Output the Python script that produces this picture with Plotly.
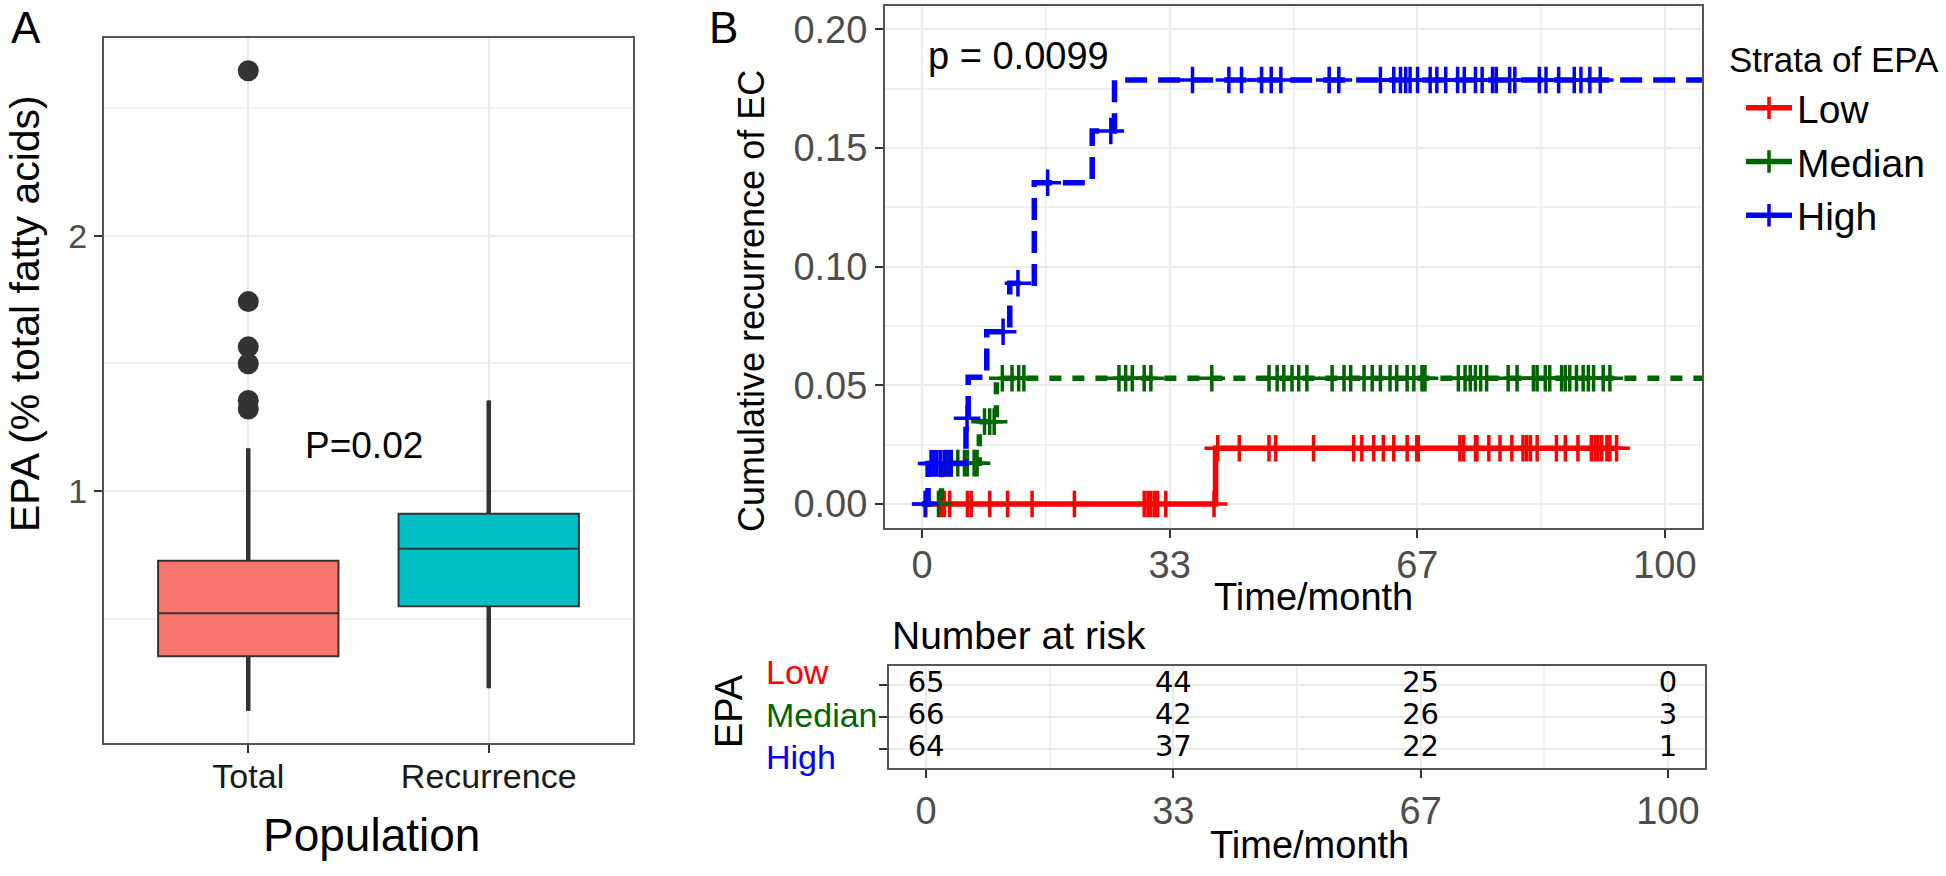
import plotly.graph_objects as go
import numpy as np

W, H = 1946, 876
FONT = "Liberation Sans, Arial, sans-serif"

# ---------------- Panel A data ----------------
populations = ["Total", "Recurrence"]
epa_lower = [0.141, 0.230]
epa_q1 = [0.355, 0.550]
epa_median = [0.523, 0.775]
epa_q3 = [0.728, 0.912]
epa_upper = [1.168, 1.355]
epa_outliers_total = [2.645, 1.742, 1.565, 1.499, 1.355, 1.322]
box_fill = ["#F8766D", "#00BFC4"]
p_value_A = "P=0.02"

# ---------------- Panel B data ----------------
strata = ["Low", "Median", "High"]
strata_colors = ["#FF0000", "#006400", "#0000FF"]
strata_dash = ["solid", "12px,11px", "22px,11px"]

low_event_time = [39.5]
low_event_cuminc = [0.0235]
low_censor = [0.5, 2.6, 3.0, 3.7, 6.1, 6.6, 9.1, 11.5, 14.8, 20.5, 29.9, 30.4, 30.8,
              31.3, 31.7, 32.8, 39.3, 39.8, 42.7, 46.7, 47.6, 52.7, 58.1, 59.2, 60.8,
              62.1, 63.5, 65.3, 66.6, 66.8, 72.4, 72.9, 74.5, 74.7, 76.3, 77.8, 79.4,
              80.9, 81.4, 81.9, 82.8, 85.4, 86.6, 88.3, 90.1, 90.6, 91.0, 91.5, 92.2,
              92.6, 93.5]

median_event_time = [2.6, 7.7, 10.0]
median_event_cuminc = [0.0172, 0.0347, 0.0530]
median_censor = [2.2, 3.2, 3.9, 4.8, 5.7, 6.1, 7.0, 7.4, 8.4, 9.1, 9.7, 10.8, 12.1, 13.0,
                 13.7, 26.5, 27.4, 28.3, 29.9, 30.8, 39.0, 46.7, 47.8, 48.7, 49.8, 50.7,
                 51.8, 55.2, 56.8, 57.7, 59.5, 60.6, 61.7, 63.0, 63.9, 65.3, 66.2, 67.3,
                 67.7, 72.2, 73.1, 73.8, 74.5, 75.2, 76.0, 78.9, 80.1, 82.3, 82.8, 83.9,
                 84.5, 86.1, 86.6, 87.2, 88.1, 89.0, 89.7, 90.4, 91.7, 92.6, 108.0, 112.0,
                 117.0]

high_event_time = [0.8, 5.9, 6.2, 8.7, 11.8, 15.1, 22.9, 25.9]
high_event_cuminc = [0.0171, 0.0361, 0.0534, 0.0726, 0.0930, 0.1354, 0.1572, 0.1787]
high_censor = [0.4, 1.2, 1.6, 2.0, 2.5, 3.0, 3.5, 3.9, 6.05, 10.9, 12.9, 16.9, 25.4,
               36.4, 41.3, 43.0, 45.7, 47.0, 48.3, 54.8, 56.1, 61.7, 63.5, 64.4, 65.1,
               65.7, 66.7, 68.4, 69.3, 70.5, 72.1, 73.0, 74.5, 75.4, 76.8, 77.3, 79.1,
               79.8, 83.1, 84.0, 85.7, 87.8, 88.7, 89.9, 91.3, 108.0]
p_value_B = "p = 0.0099"

time_ticks = [0, 100 / 3, 200 / 3, 100]
time_tick_labels = ["0", "33", "67", "100"]
risk_low = [65, 44, 25, 0]
risk_median = [66, 42, 26, 3]
risk_high = [64, 37, 22, 1]

events = [(low_event_time, low_event_cuminc, low_censor),
          (median_event_time, median_event_cuminc, median_censor),
          (high_event_time, high_event_cuminc, high_censor)]
risks = [risk_low, risk_median, risk_high]


def px(x):
    return x / W


def py(y):
    return 1 - y / H


def step_xy(ev_t, ev_y, cens):
    end = max(max(cens), max(ev_t))
    return [0] + list(ev_t) + [end], [0] + list(ev_y) + [ev_y[-1]]


def censor_y(ev_t, ev_y, cens):
    ts = np.array(ev_t)
    ys = np.array(ev_y)
    out = []
    for c in cens:
        i = np.searchsorted(ts, c, side="right") - 1
        out.append(0.0 if i < 0 else float(ys[i]))
    return out


fig = go.Figure()

# ---------------- Panel A ----------------
for i, name in enumerate(populations):
    fig.add_trace(go.Box(
        x=[i], q1=[epa_q1[i]], median=[epa_median[i]], q3=[epa_q3[i]],
        lowerfence=[epa_lower[i]], upperfence=[epa_upper[i]],
        width=0.75, fillcolor=box_fill[i], line=dict(color="#333333", width=2),
        whiskerwidth=0, boxpoints=False, showlegend=False, hoverinfo="skip",
        xaxis="x", yaxis="y"))
    fig.add_trace(go.Scatter(
        x=[i, i, None, i, i],
        y=[epa_lower[i], epa_q1[i], None, epa_q3[i], epa_upper[i]],
        mode="lines", line=dict(color="#333333", width=4.5),
        showlegend=False, hoverinfo="skip", xaxis="x", yaxis="y"))

fig.add_trace(go.Scatter(
    x=[0] * len(epa_outliers_total), y=epa_outliers_total, mode="markers",
    marker=dict(color="#333333", size=21), showlegend=False,
    xaxis="x", yaxis="y"))

# ---------------- Panel B ----------------
for k, name in enumerate(strata):
    ev_t, ev_y, cens = events[k]
    sx, sy = step_xy(ev_t, ev_y, cens)
    fig.add_trace(go.Scatter(
        x=sx, y=sy, mode="lines", line_shape="hv",
        line=dict(color=strata_colors[k], width=5.5, dash=strata_dash[k]),
        showlegend=False, hoverinfo="skip", xaxis="x2", yaxis="y2"))
    fig.add_trace(go.Scatter(
        x=cens, y=censor_y(ev_t, ev_y, cens), mode="markers",
        marker=dict(symbol="cross-thin", size=19,
                    line=dict(color=strata_colors[k], width=3.5)),
        showlegend=False, xaxis="x2", yaxis="y2"))
    # legend key
    fig.add_trace(go.Scatter(
        x=[None], y=[None], mode="lines+markers", name=name,
        line=dict(color=strata_colors[k], width=5.5),
        marker=dict(symbol="cross-thin", size=16,
                    line=dict(color=strata_colors[k], width=3.5)),
        legendgroup=name, xaxis="x2", yaxis="y2"))

# risk table
for k, name in enumerate(strata):
    fig.add_trace(go.Scatter(
        x=time_ticks, y=[len(strata) - k] * len(time_ticks),
        text=[str(v) for v in risks[k]], mode="text",
        textfont=dict(family="DejaVu Sans", size=29, color="black"),
        showlegend=False, hoverinfo="skip", xaxis="x3", yaxis="y3"))

GRID = "#EBEBEB"
MINOR = "#F0F0F0"
BORDER = "#555555"
TICKC = "#4D4D4D"

common = dict(showline=True, linecolor=BORDER, linewidth=2, mirror=True,
              ticks="outside", tickcolor="#333333", tickwidth=2, ticklen=8,
              zeroline=False, gridcolor=GRID, gridwidth=2)

fig.update_layout(
    width=W, height=H, margin=dict(l=0, r=0, t=0, b=0),
    paper_bgcolor="white", plot_bgcolor="white",
    font=dict(family=FONT, color="black"),
    xaxis=dict(domain=[px(104), px(633)], anchor="y", range=[-0.6, 1.6],
               tickvals=list(range(len(populations))), ticktext=populations,
               tickfont=dict(size=34, color="#1A1A1A"), ticklabelstandoff=-6,
               **common),
    yaxis=dict(domain=[py(743), py(38)], anchor="x", range=[0.0155, 2.773],
               tickvals=[1, 2], tickfont=dict(size=34, color=TICKC),
               minor=dict(tickvals=[0.5, 1.5, 2.5], showgrid=True, gridcolor=MINOR,
                          gridwidth=1.5, ticks=""), **common),
    xaxis2=dict(domain=[px(885), px(1702)], anchor="y2", range=[-5, 105],
                tickvals=time_ticks, ticktext=time_tick_labels,
                tickfont=dict(size=38, color=TICKC), ticklabelstandoff=-5,
                minor=dict(dtick=50 / 3, tick0=0, showgrid=True, gridcolor=MINOR,
                           gridwidth=1.5, ticks=""), **common),
    yaxis2=dict(domain=[py(527.7), py(5.7)], anchor="x2", range=[-0.01, 0.21],
                tickvals=[0, 0.05, 0.10, 0.15, 0.20], tickformat=".2f",
                tickfont=dict(size=38, color=TICKC),
                minor=dict(dtick=0.025, tick0=0, showgrid=True, gridcolor=MINOR,
                           gridwidth=1.5, ticks=""), **common),
    xaxis3=dict(domain=[px(889), px(1705)], anchor="y3", range=[-5, 105],
                tickvals=time_ticks, ticktext=time_tick_labels,
                tickfont=dict(size=38, color=TICKC),
                minor=dict(dtick=50 / 3, tick0=0, showgrid=True, gridcolor=MINOR,
                           gridwidth=1.5, ticks=""), **common),
    yaxis3=dict(domain=[py(768.3), py(666)], anchor="x3", range=[0.4, 3.6],
                tickvals=[1, 2, 3], showticklabels=False, **common),
    legend=dict(x=px(1741), y=py(76), xanchor="left", yanchor="top",
                font=dict(size=39), itemwidth=46,
                bgcolor="rgba(0,0,0,0)", tracegroupgap=0),
)

anns = [
    dict(text="A", x=26, y=27, size=44),
    dict(text="B", x=723, y=27, size=44),
    dict(text="EPA (% total fatty acids)", x=25, y=314, size=41, angle=-90),
    dict(text="Population", x=371, y=835, size=46),
    dict(text="Cumulative recurrence of EC", x=751, y=301, size=36, angle=-90),
    dict(text="Time/month", x=1313, y=597, size=38),
    dict(text="Number at risk", x=890, y=635, size=39, xanchor="left"),
    dict(text="EPA", x=729, y=711, size=38, angle=-90),
    dict(text="Low", x=764, y=672, size=34, xanchor="left", color=strata_colors[0]),
    dict(text="Median", x=764, y=715, size=34, xanchor="left", color=strata_colors[1]),
    dict(text="High", x=764, y=757, size=34, xanchor="left", color=strata_colors[2]),
    dict(text="Time/month", x=1309, y=845, size=38),
    dict(text="Strata of EPA", x=1727, y=59, size=35, xanchor="left"),
]
for a in anns:
    fig.add_annotation(text=a["text"], x=px(a["x"]), y=py(a["y"]), xref="paper",
                       yref="paper", showarrow=False, textangle=a.get("angle", 0),
                       xanchor=a.get("xanchor", "center"), yanchor="middle",
                       font=dict(size=a["size"], color=a.get("color", "black"),
                                 family=FONT))

fig.add_annotation(text=p_value_A, x=0.481, y=1.18, xref="x", yref="y",
                   showarrow=False, font=dict(size=37, color="black", family=FONT))
fig.add_annotation(text=p_value_B, x=0.5, y=0.189, xref="x2", yref="y2",
                   showarrow=False, xanchor="left",
                   font=dict(size=38, color="black", family=FONT))

fig.write_html("out.html", config={"displayModeBar": False},
               post_script="document.body.style.margin='0px';")
